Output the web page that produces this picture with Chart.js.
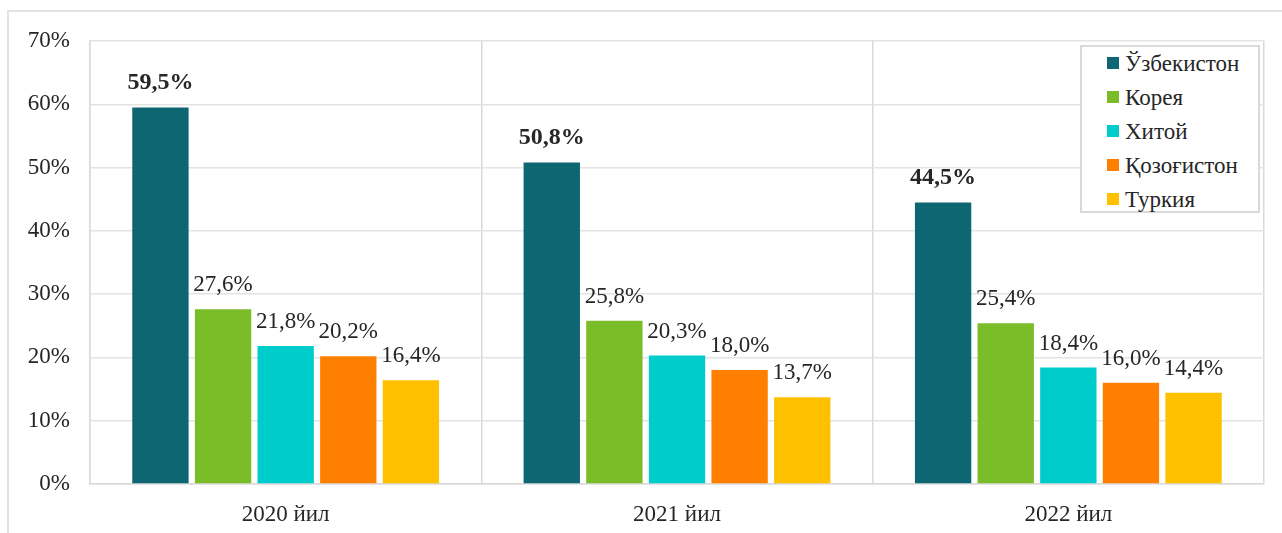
<!DOCTYPE html>
<html lang="uz">
<head>
<meta charset="UTF-8">
<title>Chart</title>
<script src="https://cdn.jsdelivr.net/npm/chart.js"></script>
<style>
    body { margin: 0; background: #fff; overflow: hidden; }
    .frame {
        position: absolute; left: 7px; top: 10px; width: 1300px; height: 600px;
        border: 2px solid #e3e3e3; box-sizing: border-box;
    }
    .wrap { position: absolute; left: 0; top: 0; width: 1282px; height: 533px; }
    #legend {
        position: absolute; left: 1080px; top: 45px; width: 180px; height: 168px;
        border: 2px solid #d9d9d9; background: #fff; box-sizing: border-box;
        font-family: "Liberation Serif", "Times New Roman", serif; font-size: 23px; color: #262626;
        padding: 0 0 0 25px;
    }
    #legend div { height: 34px; line-height: 34px; white-space: nowrap; }
    #legend span { display: inline-block; width: 12px; height: 12px; margin-right: 6px; vertical-align: 2px; }
</style>
</head>
<body>
<div class="frame"></div>
<div class="wrap"><canvas id="chart" width="1282" height="533"></canvas></div>
<div id="legend"></div>
<script>
const years = ['2020 йил', '2021 йил', '2022 йил'];
const countries = ['Ўзбекистон', 'Корея', 'Хитой', 'Қозоғистон', 'Туркия'];
const colors = ['#0E6672', '#7BBD28', '#00CCCC', '#FF8000', '#FFC000'];
const uzbekistan = [59.5, 50.8, 44.5];
const korea = [27.6, 25.8, 25.4];
const china = [21.8, 20.3, 18.4];
const kazakhstan = [20.2, 18.0, 16.0];
const turkey = [16.4, 13.7, 14.4];
const yTicks = [0, 10, 20, 30, 40, 50, 60, 70];

const series = [uzbekistan, korea, china, kazakhstan, turkey];

// value labels above bars
const barLabels = {
    id: 'barLabels',
    afterDatasetsDraw(chart) {
        const ctx = chart.ctx;
        ctx.save();
        ctx.textAlign = 'center';
        ctx.textBaseline = 'middle';
        chart.data.datasets.forEach((ds, i) => {
            const meta = chart.getDatasetMeta(i);
            ctx.font = i === 0 ? 'bold 24px "Liberation Serif"' : '23px "Liberation Serif"';
            ctx.fillStyle = '#262626';
            meta.data.forEach((bar, j) => {
                const txt = ds.data[j].toFixed(1).replace('.', ',') + '%';
                ctx.fillText(txt, bar.x, bar.y - (i === 0 ? 25 : 24));
            });
        });
        ctx.restore();
    }
};

new Chart(document.getElementById('chart').getContext('2d'), {
    type: 'bar',
    data: {
        labels: years,
        datasets: series.map((d, i) => ({
            label: countries[i],
            data: d,
            backgroundColor: colors[i],
            categoryPercentage: 0.8,
            barPercentage: 0.9
        }))
    },
    options: {
        responsive: false,
        animation: false,
        layout: { padding: { left: 20, right: 18, top: 41, bottom: 0 } },
        plugins: {
            legend: { display: false },
            tooltip: { enabled: false }
        },
        scales: {
            x: {
                afterFit: s => { s.height = 49; },
                grid: { color: '#d9d9d9', lineWidth: 1.5, drawTicks: false, offset: true },
                border: { color: '#d9d9d9', width: 1.5 },
                ticks: { color: '#262626', padding: 17, font: { family: 'Liberation Serif', size: 23 } }
            },
            y: {
                min: 0, max: 70,
                afterBuildTicks: axis => { axis.ticks = yTicks.map(v => ({ value: v })); },
                afterFit: s => { s.width = 70; },
                grid: { color: '#e3e3e3', lineWidth: 1.5, drawTicks: false },
                border: { color: '#d9d9d9', width: 1.5 },
                ticks: {
                    color: '#262626', padding: 20,
                    font: { family: 'Liberation Serif', size: 23 },
                    callback: v => v + '%'
                }
            }
        }
    },
    plugins: [barLabels]
});

document.getElementById('legend').innerHTML = countries.map((c, i) =>
    '<div><span style="background:' + colors[i] + '"></span>' + c + '</div>').join('');
</script>
</body>
</html>
